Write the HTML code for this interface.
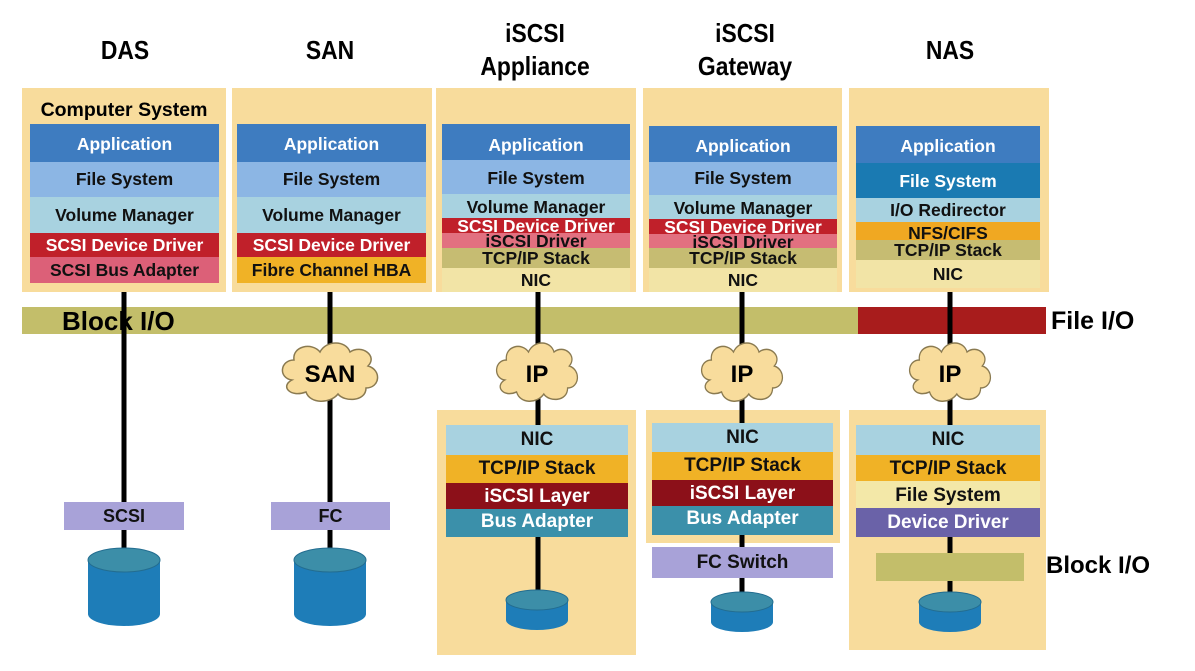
<!DOCTYPE html>
<html><head><meta charset="utf-8"><style>
body{margin:0;width:1195px;height:671px;background:#fff;position:relative;overflow:hidden;font-family:"Liberation Sans",Arial,sans-serif;font-weight:bold}
div{position:absolute;box-sizing:border-box}
.t{font-size:26px;text-align:center;color:#000;line-height:33px;transform:scaleX(0.88)}
.bx{background:#F8DC9C}
.l{text-align:center;font-size:17.5px;white-space:nowrap;overflow:hidden;color:#111}
.w{color:#fff}
.app{background:#3E7CC0;color:#fff}
.fs{background:#8CB6E4}
.vm{background:#A8D2E0}
.sdd{background:#C0202A;color:#fff}
.isd{background:#E27080}
.tcp{background:#C6BC72}
.nic{background:#F2E4A6}
.tcp2{background:#F0B226}
.isl{background:#8C1019;color:#fff}
.bus{background:#3B90AA;color:#fff}
.lav{background:#A8A2D8}
svg{position:absolute;left:0;top:0}
</style></head><body>

<div class="t" style="left:60px;top:34px;width:130px">DAS</div>
<div class="t" style="left:265px;top:34px;width:130px">SAN</div>
<div class="t" style="left:450px;top:17px;width:170px">iSCSI<br>Appliance</div>
<div class="t" style="left:660px;top:17px;width:170px">iSCSI<br>Gateway</div>
<div class="t" style="left:885px;top:34px;width:130px">NAS</div>

<div class="bx" style="left:22px;top:88px;width:204px;height:204px"></div>
<div class="bx" style="left:232px;top:88px;width:200px;height:204px"></div>
<div class="bx" style="left:436px;top:88px;width:200px;height:204px"></div>
<div class="bx" style="left:643px;top:88px;width:199px;height:204px"></div>
<div class="bx" style="left:849px;top:88px;width:200px;height:204px"></div>

<div style="left:22px;top:98px;width:204px;text-align:center;font-size:19.5px;line-height:24px">Computer System</div>
<div class="l app" style="left:30px;top:124px;width:189px;height:38px;line-height:40px">Application</div>
<div class="l fs" style="left:30px;top:162px;width:189px;height:35px;line-height:35px">File System</div>
<div class="l vm" style="left:30px;top:197px;width:189px;height:36px;line-height:36px">Volume Manager</div>
<div class="l sdd" style="left:30px;top:233px;width:189px;height:24px;line-height:24px">SCSI Device Driver</div>
<div class="l" style="left:30px;top:257px;width:189px;height:26px;line-height:26px;background:#DC6078">SCSI Bus Adapter</div>
<div class="l app" style="left:237px;top:124px;width:189px;height:38px;line-height:40px">Application</div>
<div class="l fs" style="left:237px;top:162px;width:189px;height:35px;line-height:35px">File System</div>
<div class="l vm" style="left:237px;top:197px;width:189px;height:36px;line-height:36px">Volume Manager</div>
<div class="l sdd" style="left:237px;top:233px;width:189px;height:24px;line-height:24px">SCSI Device Driver</div>
<div class="l" style="left:237px;top:257px;width:189px;height:26px;line-height:26px;background:#F0B226">Fibre Channel HBA</div>
<div class="l app" style="left:442px;top:124px;width:188px;height:36px;line-height:42px">Application</div>
<div class="l fs" style="left:442px;top:160px;width:188px;height:34px;line-height:36px">File System</div>
<div class="l vm" style="left:442px;top:194px;width:188px;height:24px;line-height:26px">Volume Manager</div>
<div class="l sdd" style="left:442px;top:218px;width:188px;height:15px;line-height:16px">SCSI Device Driver</div>
<div class="l isd" style="left:442px;top:233px;width:188px;height:15px;line-height:16px">iSCSI Driver</div>
<div class="l tcp" style="left:442px;top:248px;width:188px;height:20px;line-height:20px">TCP/IP Stack</div>
<div class="l nic" style="left:442px;top:268px;width:188px;height:24px;line-height:24px">NIC</div>
<div class="l app" style="left:649px;top:126px;width:188px;height:36px;line-height:40px">Application</div>
<div class="l fs" style="left:649px;top:162px;width:188px;height:33px;line-height:33px">File System</div>
<div class="l vm" style="left:649px;top:195px;width:188px;height:24px;line-height:26px">Volume Manager</div>
<div class="l sdd" style="left:649px;top:219px;width:188px;height:15px;line-height:16px">SCSI Device Driver</div>
<div class="l isd" style="left:649px;top:234px;width:188px;height:14px;line-height:16px">iSCSI Driver</div>
<div class="l tcp" style="left:649px;top:248px;width:188px;height:20px;line-height:20px">TCP/IP Stack</div>
<div class="l nic" style="left:649px;top:268px;width:188px;height:24px;line-height:24px">NIC</div>
<div class="l app" style="left:856px;top:126px;width:184px;height:37px;line-height:40px">Application</div>
<div class="l w" style="left:856px;top:163px;width:184px;height:35px;line-height:37px;background:#1A7AB2">File System</div>
<div class="l vm" style="left:856px;top:198px;width:184px;height:24px;line-height:24px">I/O Redirector</div>
<div class="l" style="left:856px;top:222px;width:184px;height:18px;line-height:22px;background:#F0A822">NFS/CIFS</div>
<div class="l tcp" style="left:856px;top:240px;width:184px;height:20px;line-height:20px">TCP/IP Stack</div>
<div class="l nic" style="left:856px;top:260px;width:184px;height:28px;line-height:28px">NIC</div>

<div style="left:22px;top:307px;width:836px;height:27px;background:#C3BE6A"></div>
<div style="left:858px;top:307px;width:188px;height:27px;background:#A81C1C"></div>
<div style="left:62px;top:306px;font-size:26px;line-height:30px">Block I/O</div>
<div style="left:1051px;top:306px;font-size:25px;line-height:30px">File I/O</div>

<div class="bx" style="left:437px;top:410px;width:199px;height:245px"></div>
<div class="bx" style="left:646px;top:410px;width:194px;height:133px"></div>
<div class="bx" style="left:849px;top:410px;width:197px;height:240px"></div>

<svg width="1195" height="671">
<g stroke="#000" stroke-width="5">
<line x1="124" y1="292" x2="124" y2="590"/>
<line x1="330" y1="292" x2="330" y2="590"/>
<line x1="538" y1="292" x2="538" y2="600"/>
<line x1="742" y1="292" x2="742" y2="600"/>
<line x1="950" y1="292" x2="950" y2="600"/>
</g>
<defs><path id="cl" d="M-38,8 C-52,6 -50,-12 -36,-12 C-38,-26 -18,-30 -10,-20 C-4,-32 16,-32 20,-20 C32,-28 48,-16 38,-6 C52,-2 50,16 36,16 C36,30 14,30 8,22 C0,32 -20,32 -24,20 C-40,26 -50,14 -38,8 Z" fill="#F8DC9C" stroke="#8a7a50" stroke-width="1.5"/>
<g id="dk"><path d="M-36,0 L-36,54 A36,12 0 0 0 36,54 L36,0 Z" fill="#1E7DB8"/><ellipse cx="0" cy="0" rx="36" ry="12" fill="#3C8EA8" stroke="#236d90" stroke-width="1"/></g>
<g id="dk2"><path d="M-31,0 L-31,20 A31,10 0 0 0 31,20 L31,0 Z" fill="#1E7DB8"/><ellipse cx="0" cy="0" rx="31" ry="10" fill="#3C8EA8" stroke="#236d90" stroke-width="1"/></g>
</defs>
<use href="#cl" x="330" y="372"/>
<use href="#cl" transform="translate(537 372) scale(0.85 1)"/>
<use href="#cl" transform="translate(742 372) scale(0.85 1)"/>
<use href="#cl" transform="translate(950 372) scale(0.85 1)"/>
<use href="#dk" x="124" y="560"/>
<use href="#dk" x="330" y="560"/>
<use href="#dk2" x="537" y="600"/>
<use href="#dk2" x="742" y="602"/>
<use href="#dk2" x="950" y="602"/>
<g font-family="Liberation Sans,Arial,sans-serif" font-weight="bold" font-size="24" text-anchor="middle">
<text x="330" y="382">SAN</text>
<text x="537" y="382">IP</text>
<text x="742" y="382">IP</text>
<text x="950" y="382">IP</text>
</g>
</svg>

<div class="l vm" style="left:446px;top:425px;width:182px;height:30px;line-height:30px;font-size:19px">NIC</div>
<div class="l tcp2" style="left:446px;top:455px;width:182px;height:28px;line-height:28px;font-size:19px">TCP/IP Stack</div>
<div class="l isl" style="left:446px;top:483px;width:182px;height:26px;line-height:28px;font-size:19px">iSCSI Layer</div>
<div class="l bus" style="left:446px;top:509px;width:182px;height:28px;line-height:26px;font-size:19px">Bus Adapter</div>

<div class="l vm" style="left:652px;top:423px;width:181px;height:29px;line-height:29px;font-size:19px">NIC</div>
<div class="l tcp2" style="left:652px;top:452px;width:181px;height:28px;line-height:28px;font-size:19px">TCP/IP Stack</div>
<div class="l isl" style="left:652px;top:480px;width:181px;height:26px;line-height:28px;font-size:19px">iSCSI Layer</div>
<div class="l bus" style="left:652px;top:506px;width:181px;height:29px;line-height:26px;font-size:19px">Bus Adapter</div>
<div class="l lav" style="left:652px;top:547px;width:181px;height:31px;line-height:31px;font-size:19px">FC Switch</div>

<div class="l vm" style="left:856px;top:425px;width:184px;height:30px;line-height:30px;font-size:19px">NIC</div>
<div class="l tcp2" style="left:856px;top:455px;width:184px;height:26px;line-height:28px;font-size:19px">TCP/IP Stack</div>
<div class="l" style="left:856px;top:481px;width:184px;height:27px;line-height:30px;font-size:19px;background:#F3E8A8">File System</div>
<div class="l w" style="left:856px;top:508px;width:184px;height:29px;line-height:29px;font-size:19px;background:#6A62A8">Device Driver</div>
<div style="left:876px;top:553px;width:148px;height:28px;background:#C3BE6A"></div>
<div style="left:1046px;top:551px;font-size:24px;line-height:30px">Block I/O</div>

<div class="l lav" style="left:64px;top:502px;width:120px;height:28px;line-height:28px;font-size:18px">SCSI</div>
<div class="l lav" style="left:271px;top:502px;width:119px;height:28px;line-height:28px;font-size:18px">FC</div>
</body></html>
